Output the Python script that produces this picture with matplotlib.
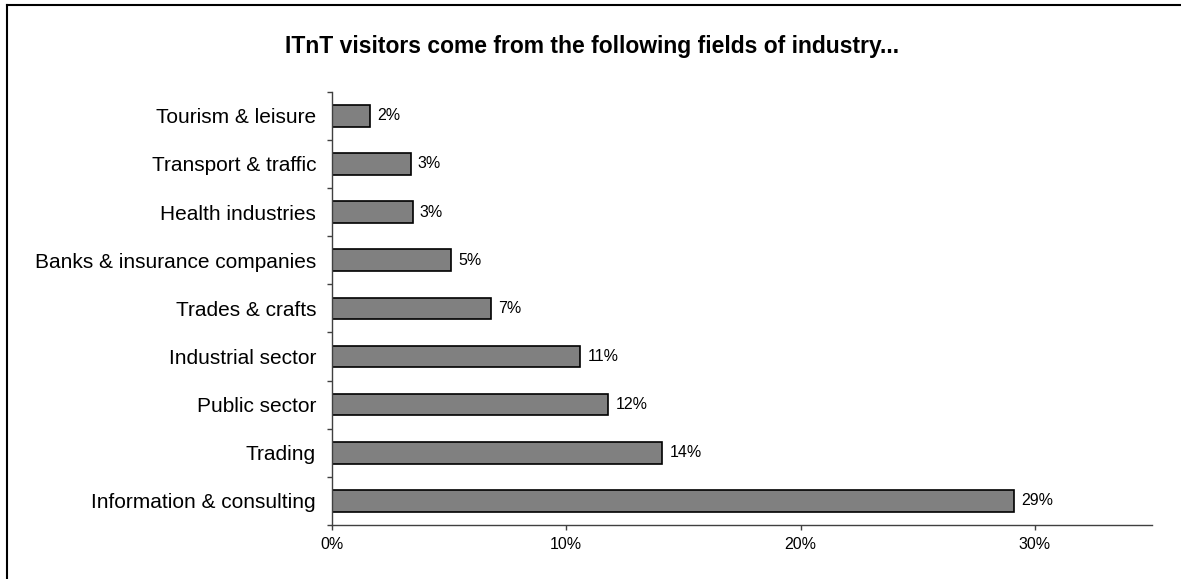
import matplotlib.pyplot as plt
from matplotlib.lines import Line2D

categories = ["Information & consulting", "Trading", "Public sector", "Industrial sector",
              "Trades & crafts", "Banks & insurance companies", "Health industries",
              "Transport & traffic", "Tourism & leisure"]
values = [29.1, 14.1, 11.8, 10.6, 6.8, 5.1, 3.45, 3.37, 1.63]
value_labels = ["29%", "14%", "12%", "11%", "7%", "5%", "3%", "3%", "2%"]
xticks = [0, 10, 20, 30]

plt.rcParams['font.family'] = ['Liberation Sans', 'DejaVu Sans']

fig = plt.figure(figsize=(11.81, 5.79), dpi=100)
ax = fig.add_axes([0.2811, 0.0933, 0.6944, 0.7483])

pos = list(range(len(categories)))
ax.barh(pos, values, height=0.45, color='#808080', edgecolor='black', linewidth=1.2)

for p, v, lab in zip(pos, values, value_labels):
    ax.annotate(lab, (v, p), xytext=(5, 0), textcoords='offset points',
                va='center', ha='left', fontsize=11.5)

ax.set_xlim(0, 35)
ax.set_ylim(-0.5, len(categories) - 0.5)
ax.set_xticks(xticks)
ax.set_xticklabels([f"{t}%" for t in xticks], fontsize=11.5)
ax.set_yticks(pos)
ax.set_yticklabels(categories, fontsize=15)
ax.set_yticks([p - 0.5 for p in pos] + [len(categories) - 0.5], minor=True)
ax.tick_params(axis='y', which='major', length=0, pad=11.5)
ax.tick_params(axis='y', which='minor', length=3.6, width=1, color='#404040')
ax.tick_params(axis='x', length=3.6, width=1, color='#404040', pad=5)

for s in ['top', 'right']:
    ax.spines[s].set_visible(False)
for s in ['left', 'bottom']:
    ax.spines[s].set_color('#404040')
    ax.spines[s].set_linewidth(1)

fig.text(0.501, 0.919, "ITnT visitors come from the following fields of industry...",
         ha='center', va='center', fontsize=16.5, fontweight='bold')

# outer frame (only left and top visible in the reference)
fig.add_artist(Line2D([7 / 1181, 7 / 1181], [0, 1 - 5 / 579], color='black', linewidth=1.5,
                      transform=fig.transFigure))
fig.add_artist(Line2D([7 / 1181, 1], [1 - 5 / 579, 1 - 5 / 579], color='black', linewidth=1.5,
                      transform=fig.transFigure))

fig.savefig("out.png", dpi=100, facecolor='white')
